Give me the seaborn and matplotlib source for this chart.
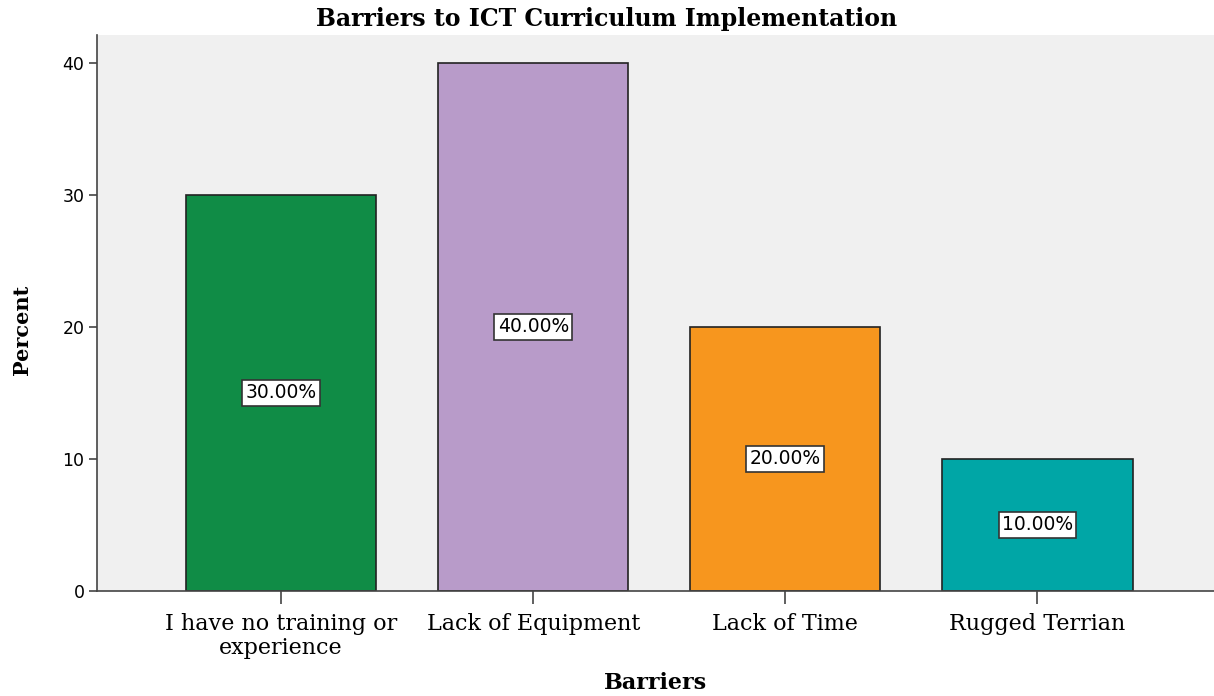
import matplotlib
matplotlib.use("Agg")
import matplotlib.pyplot as plt
import seaborn as sns
import pandas as pd

categories = ["I have no training or\nexperience", "Lack of Equipment", "Lack of Time", "Rugged Terrian"]
percents = [30.0, 40.0, 20.0, 10.0]
colors = ["#108C46", "#B89BC9", "#F7961E", "#00A6A6"]
yticks = [0, 10, 20, 30, 40]

df = pd.DataFrame({"Barriers": categories, "Percent": percents})

sns.set_style("white")
plt.rcParams["text.color"] = "black"
plt.rcParams["xtick.color"] = "black"
plt.rcParams["ytick.color"] = "black"
plt.rcParams["axes.labelcolor"] = "black"

fig = plt.figure(figsize=(12.14, 6.96), dpi=100)
ax = fig.add_axes([0.0799, 0.1509, 0.9201, 0.7988])
ax.set_facecolor("#F0F0F0")

sns.barplot(data=df, x="Barriers", y="Percent", hue="Barriers", palette=colors,
            legend=False, width=0.754, edgecolor="#222222", linewidth=1.2,
            saturation=1, ax=ax)

ax.set_xlim(-0.73, 3.70)
ax.set_ylim(0, 42.1)
ax.set_yticks(yticks)

for sp in ["top", "right"]:
    ax.spines[sp].set_visible(False)
for sp in ["left", "bottom"]:
    ax.spines[sp].set_color("#444444")
    ax.spines[sp].set_linewidth(1.2)

ax.tick_params(axis="y", direction="out", length=6, width=1.2, color="#444444",
               labelcolor="black", labelsize=12.5, left=True, pad=3)
ax.tick_params(axis="x", direction="out", length=9, width=1.2, color="#444444",
               labelcolor="black", labelsize=16, bottom=True, pad=7)
for lab in ax.get_yticklabels():
    lab.set_fontfamily("DejaVu Sans")
for lab in ax.get_xticklabels():
    lab.set_fontfamily("DejaVu Serif")
    lab.set_linespacing(1.12)

for i, v in enumerate(percents):
    ax.text(i, v / 2, f"{v:.2f}%", ha="center", va="center", fontsize=13.5,
            family="DejaVu Sans", color="black",
            bbox=dict(boxstyle="square,pad=0.18", facecolor="white",
                      edgecolor="#333333", linewidth=1.2))

ax.set_xlabel("Barriers", fontsize=16, fontweight="bold", family="DejaVu Serif",
              color="black")
ax.xaxis.set_label_coords(0.5, -0.165)
ax.xaxis.label.set_va("center")
ax.set_ylabel("Percent", fontsize=15, fontweight="bold", family="DejaVu Serif",
              color="black")
ax.yaxis.set_label_coords(-0.067, 0.47)
ax.yaxis.label.set_va("center")
fig.text(0.5, 0.973, "Barriers to ICT Curriculum Implementation", ha="center",
         va="center", fontsize=17, fontweight="bold", family="DejaVu Serif",
         color="black")

fig.savefig("out.png", dpi=100)
